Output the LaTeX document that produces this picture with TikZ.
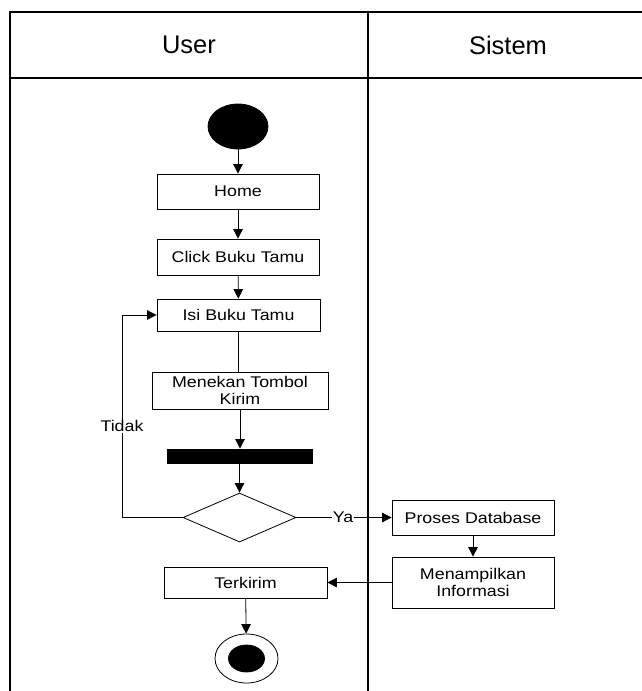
\documentclass[tikz,border=0pt]{standalone}
\usepackage{fontspec}
\setmainfont{Liberation Sans}
\newfontfamily\aktfont[FakeStretch=1.15]{Liberation Sans}
\usepackage{tikz}
\usetikzlibrary{shapes.geometric,arrows.meta}
\newcommand{\aktsize}{\fontsize{15.5}{17}\selectfont}
\newcommand{\lanesize}{\fontsize{25.5}{28}\selectfont}

\begin{document}
\begin{tikzpicture}[x=1pt,y=-1pt,line width=0.8pt,
	>={Triangle[length=9.5pt,width=9.5pt]},
	akt/.style={draw,rectangle,inner sep=0pt,font=\aktfont\aktsize,align=center}]
	\useasboundingbox (0,0) rectangle (642,691);
	% swimlane
	\draw[line width=1.2pt] (10,691) -- (10,12) -- (642,12);
	\draw[line width=1.2pt] (10,78) -- (642,78);
	\draw[line width=1.2pt] (368,12) -- (368,691);
	\node[font=\lanesize] (user) at (189,45) {User};
	\node[font=\lanesize] (sistem) at (508,45) {Sistem};
	% aktivitas
	\node[draw,fill,ellipse,minimum width=60pt,minimum height=45pt] (start) at (238,126.5) {};
	\node[akt,minimum width=162pt,minimum height=35pt] (home) at (238,191.5) {Home};
	\node[akt,minimum width=162pt,minimum height=36pt] (click) at (238,257) {Click Buku Tamu};
	\node[akt,minimum width=163pt,minimum height=32pt] (isi) at (238.5,315) {Isi Buku Tamu};
	\node[akt,minimum width=176pt,minimum height=37pt] (tekan) at (240,390.5) {Menekan Tombol\\Kirim};
	\node[draw,fill,rectangle,inner sep=0pt,minimum width=145pt,minimum height=14pt] (bar) at (239.5,456) {};
	\node[draw,diamond,inner sep=0pt,minimum width=113pt,minimum height=49pt] (cek) at (239.5,517.5) {};
	\node[akt,minimum width=162pt,minimum height=35pt] (proses) at (473,517.5) {Proses Database};
	\node[akt,minimum width=162pt,minimum height=51pt] (tampil) at (473,582.5) {Menampilkan\\Informasi};
	\node[akt,minimum width=163pt,minimum height=31pt] (kirim) at (245.5,582.5) {Terkirim};
	\node[draw,ellipse,minimum width=63pt,minimum height=49pt] (end) at (246.5,658.5) {};
	\node[draw,fill,ellipse,minimum width=36pt,minimum height=27pt] (endin) at (end) {};
	\coordinate (kiri) at (122,517.5);
	% alur
	\draw[->] (start) -- (home);
	\draw[->] (home) -- (click);
	\draw[->] (click) -- (isi);
	\draw (isi) -- (isi |- tekan.north);
	\draw[->] (tekan) -- (tekan.south |- bar.north);
	\draw[->] (bar) -- (cek);
	\draw[->] (cek.west) -- (kiri) -- node[pos=0.45,fill=white,inner sep=1pt,font=\aktfont\aktsize] {Tidak} (kiri |- isi) -- (isi.west);
	\draw[->] (cek.east) -- node[pos=0.49,fill=white,inner sep=1pt,font=\aktfont\aktsize] {Ya} (proses.west);
	\draw[->] (proses) -- (tampil);
	\draw[->] (tampil.west) -- (kirim.east);
	\draw[->] (kirim) -- (end);
\end{tikzpicture}
\end{document}
